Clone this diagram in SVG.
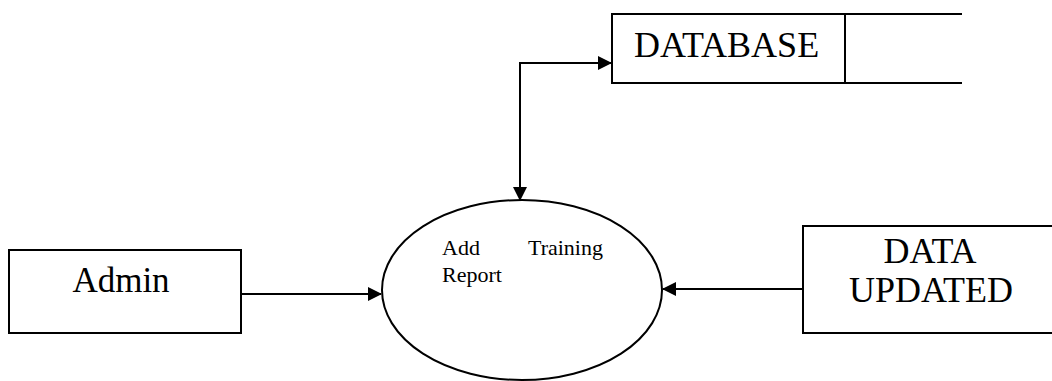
<svg xmlns="http://www.w3.org/2000/svg" width="1052" height="381" viewBox="0 0 1052 381">
<style>
.box{fill:none;stroke:#000;stroke-width:2}
.ln{fill:none;stroke:#000;stroke-width:2}
.t{font-family:"Liberation Serif",serif;fill:#000}
</style>
<defs>
<marker id="ah" markerWidth="14" markerHeight="14" refX="13" refY="7" orient="auto" markerUnits="userSpaceOnUse">
<path d="M0,0 L14,7 L0,14 Z" fill="#000"/>
</marker>
<marker id="ahs" markerWidth="14" markerHeight="14" refX="13" refY="7" orient="auto-start-reverse" markerUnits="userSpaceOnUse">
<path d="M0,0 L14,7 L0,14 Z" fill="#000"/>
</marker>
</defs>
<rect width="1052" height="381" fill="#fff"/>
<g id="connectors">
<path class="ln" d="M520,200 L520,63 L611,63" marker-start="url(#ahs)" marker-end="url(#ah)"/>
<path class="ln" d="M241,294 L381,294" marker-end="url(#ah)"/>
<path class="ln" d="M803,289 L663,289" marker-end="url(#ah)"/>
</g>
<g id="database">
<path class="box" d="M962,14 L612,14 L612,83 L962,83 M845,14 L845,83"/>
<text class="t" x="634" y="57" font-size="36">DATABASE</text>
</g>
<g id="process">
<ellipse class="box" cx="522" cy="290" rx="140" ry="90"/>
<text class="t" x="442" y="255" font-size="22">Add</text>
<text class="t" x="528" y="255" font-size="22">Training</text>
<text class="t" x="442" y="282" font-size="22">Report</text>
</g>
<g id="admin">
<rect class="box" x="9" y="250" width="232" height="83"/>
<text class="t" x="121" y="292" font-size="35" text-anchor="middle">Admin</text>
</g>
<g id="data-updated">
<rect class="box" x="803" y="226" width="260" height="107"/>
<text class="t" x="930" y="263" font-size="36" text-anchor="middle">DATA</text>
<text class="t" x="931" y="302" font-size="36" text-anchor="middle">UPDATED</text>
</g>
</svg>
